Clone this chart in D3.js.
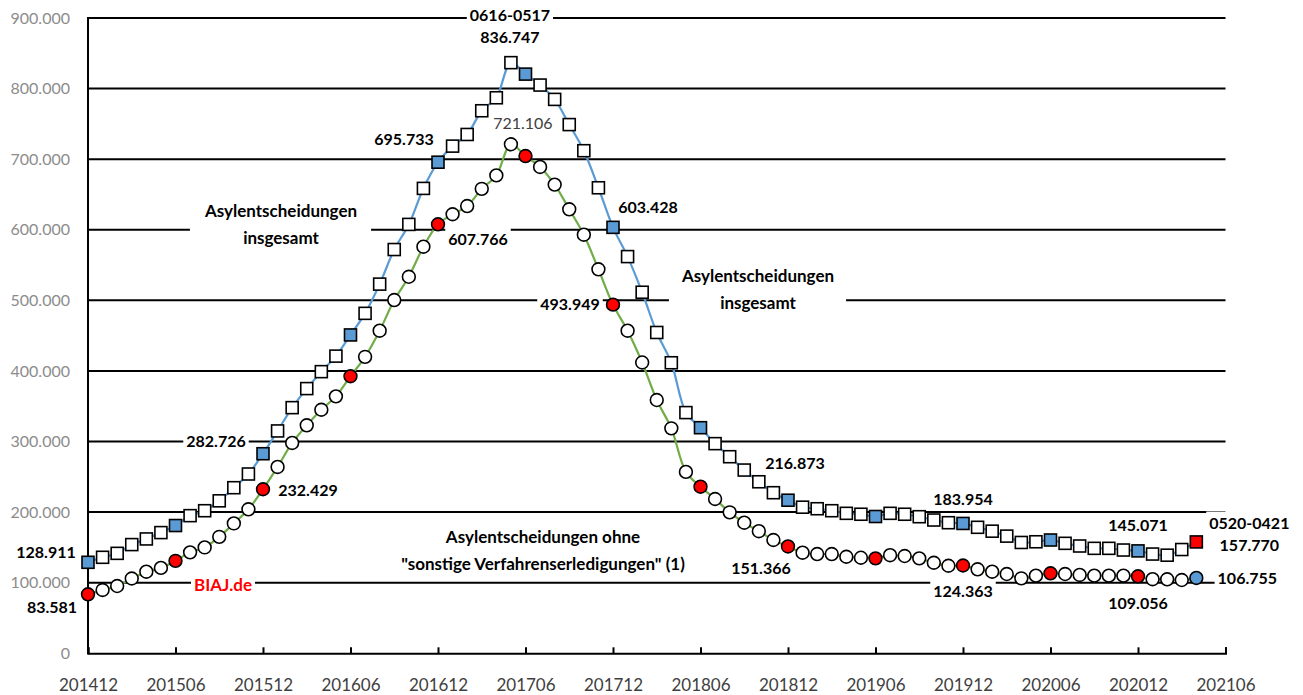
<!DOCTYPE html>
<html>
<head>
<meta charset="utf-8">
<script src="https://cdn.jsdelivr.net/npm/d3@7"></script>
<style>
  body { margin: 0; background: #fff; }
  svg { display: block; }
</style>
</head>
<body>
<div id="chart"></div>
<script>
// monthly values, 12-month rolling sums, 201412 .. 202104
var firstMonth = "201412";
var tickLabels = ["201412", "201506", "201512", "201606", "201612", "201706", "201712",
    "201806", "201812", "201906", "201912", "202006", "202012", "202106"];
var yTicks = [0, 100000, 200000, 300000, 400000, 500000, 600000, 700000, 800000, 900000];

// Asylentscheidungen insgesamt
var insgesamt = [128911, 136000, 141600, 154000, 162000, 171000, 181000, 195000, 202000, 216000,
    234600, 254000, 282726, 315000, 348000, 375000, 399000, 421000, 451000, 481600,
    523000, 572000, 607600, 658600, 695733, 718500, 735000, 768600, 787000, 836747,
    820500, 805000, 784700, 749000, 712000, 659500, 603428, 562000, 511500, 454500,
    411600, 341000, 319600, 297000, 278500, 259600, 243000, 227500, 216873, 207000,
    204800, 202000, 198300, 197000, 193800, 198300, 197000, 193500, 188800, 185000,
    183954, 178500, 173000, 166000, 157000, 158000, 160500, 155800, 152000, 148700,
    148700, 146300, 145071, 140600, 139000, 147000, 157770];

// ohne "sonstige Verfahrenserledigungen"
var ohneSonstige = [83581, 89700, 95300, 106000, 115600, 121000, 131000, 143000, 150000, 165000,
    184000, 204000, 232429, 264000, 298000, 323000, 345000, 364000, 392500, 420000,
    457000, 500400, 533400, 576000, 607766, 622000, 633600, 658000, 677000, 721106,
    704400, 689000, 664000, 629000, 593000, 544000, 493949, 457000, 412000, 358800,
    318700, 257000, 236000, 218600, 199700, 185000, 173000, 160500, 151366, 142500,
    140600, 140600, 136800, 135400, 134500, 139000, 137800, 134500, 128300, 124000,
    124363, 119000, 115600, 112300, 106200, 110000, 113300, 112300, 111000, 110000,
    110000, 110000, 109056, 105000, 104800, 103800, 106755];

var width = 1303, height = 695;
var plotLeft = 88, plotRight = 1225.5, plotTop = 18, plotBottom = 653.3;
var font = "Lato, 'Open Sans', sans-serif";
var blue = "#5b9bd5", green = "#70ad47", red = "#ff0000";

function monthIndex(s) { return +s.slice(0, 4) * 12 + (+s.slice(4, 6) - 1); }
var start = monthIndex(firstMonth);

var x = d3.scaleLinear()
    .domain([monthIndex(tickLabels[0]), monthIndex(tickLabels[tickLabels.length - 1])])
    .range([plotLeft, plotRight]);
var y = d3.scaleLinear().domain([0, 900000]).range([plotBottom, plotTop]);
var fmt = d3.formatLocale({ decimal: ",", thousands: ".", grouping: [3], currency: ["", "€"] }).format(",d");

var svg = d3.select("#chart").append("svg")
    .attr("width", width)
    .attr("height", height)
    .style("font-family", font);

// gridlines
svg.append("g")
    .selectAll("line")
    .data(yTicks.filter(d => d > 0))
    .enter().append("line")
    .attr("x1", plotLeft).attr("x2", plotRight)
    .attr("y1", d => y(d)).attr("y2", d => y(d))
    .attr("stroke", "#000").attr("stroke-width", 2);

// y axis labels
svg.append("g")
    .selectAll("text")
    .data(yTicks)
    .enter().append("text")
    .attr("x", 70).attr("y", d => y(d))
    .attr("dy", "0.35em")
    .attr("text-anchor", "end")
    .attr("fill", "#8c8c8c")
    .style("font-size", "16px")
    .text(d => d === 0 ? "0" : fmt(d));

// x axis
var xAxis = d3.axisBottom(x)
    .tickValues(tickLabels.map(monthIndex))
    .tickSize(-6)
    .tickPadding(26)
    .tickFormat((d, i) => tickLabels[i]);

var gx = svg.append("g")
    .attr("transform", "translate(0," + plotBottom + ")")
    .call(xAxis);
gx.select(".domain").attr("stroke", "#000").attr("stroke-width", 2);
gx.selectAll(".tick line").attr("stroke", "#000").attr("stroke-width", 2);
gx.selectAll(".tick text")
    .attr("fill", "#404040")
    .style("font-size", "17px")
    .style("font-family", font);

// y axis line
svg.append("line")
    .attr("x1", plotLeft).attr("x2", plotLeft)
    .attr("y1", plotTop - 1).attr("y2", plotBottom + 1)
    .attr("stroke", "#000").attr("stroke-width", 2);

// label layers: boxes under the series, texts above
var boxLayer = svg.append("g");
var seriesLayer = svg.append("g");
var textLayer = svg.append("g");

function pt(series, i) {
    return [x(start + i), y(series[i])];
}

// annotations: lines of text, anchor point, pixel offsets, style
var annotations = [
    { lines: ["128.911"], at: [insgesamt, 0], dx: -42, dy: -10 },
    { lines: ["83.581"], at: [ohneSonstige, 0], dx: -36, dy: 13 },
    { lines: ["282.726"], at: [insgesamt, 12], dx: -47, dy: -12 },
    { lines: ["232.429"], at: [ohneSonstige, 12], dx: 45, dy: 1 },
    { lines: ["695.733"], at: [insgesamt, 24], dx: -34, dy: -23 },
    { lines: ["607.766"], at: [ohneSonstige, 24], dx: 40, dy: 15 },
    { lines: ["0616-0517", "836.747"], at: [insgesamt, 29], dx: -1, dy: -47.5 },
    { lines: ["721.106"], at: [ohneSonstige, 29], dx: 12, dy: -21, light: true },
    { lines: ["603.428"], at: [insgesamt, 36], dx: 35, dy: -20 },
    { lines: ["493.949"], at: [ohneSonstige, 36], dx: -43, dy: 0 },
    { lines: ["216.873"], at: [insgesamt, 48], dx: 7, dy: -37 },
    { lines: ["151.366"], at: [ohneSonstige, 48], dx: -27, dy: 22 },
    { lines: ["183.954"], at: [insgesamt, 60], dx: 0, dy: -24 },
    { lines: ["124.363"], at: [ohneSonstige, 60], dx: 0, dy: 26 },
    { lines: ["145.071"], at: [insgesamt, 72], dx: 0, dy: -25 },
    { lines: ["109.056"], at: [ohneSonstige, 72], dx: 0, dy: 27 },
    { lines: ["0520-0421", "157.770"], at: [insgesamt, 76], dx: 53, dy: -19 },
    { lines: ["106.755"], at: [ohneSonstige, 76], dx: 51, dy: 0 },
    { lines: ["Asylentscheidungen", "insgesamt"], pos: [281, 211], pad: 14 },
    { lines: ["Asylentscheidungen", "insgesamt"], pos: [758, 276], pad: 12 },
    { lines: ["Asylentscheidungen ohne", "\"sonstige Verfahrenserledigungen\" (1)"], pos: [543, 537], pad: 6 },
    { lines: ["BIAJ.de"], pos: [223, 585], color: red }
];

annotations.forEach(function (a) {
    var cx, cy;
    if (a.at) {
        var p = pt(a.at[0], a.at[1]);
        cx = p[0] + a.dx; cy = p[1] + a.dy;
    } else {
        cx = a.pos[0]; cy = a.pos[1];
    }
    var big = !a.at;
    var t = textLayer.append("text")
        .attr("text-anchor", "middle")
        .attr("fill", a.color || (a.light ? "#404040" : "#000"))
        .style("font-weight", a.light ? "normal" : "bold")
        .style("font-size", big ? "17px" : "16px");
    a.lines.forEach(function (l, i) {
        t.append("tspan").attr("x", cx).attr("y", cy + i * (big ? 27 : 22)).attr("dy", "0.35em").text(l);
    });
    var b = t.node().getBBox();
    var pad = a.pad || 3;
    boxLayer.append("rect")
        .attr("x", b.x - pad).attr("y", b.y - 1)
        .attr("width", b.width + 2 * pad).attr("height", b.height + 2)
        .attr("fill", "#fff");
});

// series
var line = d3.line()
    .x((d, i) => x(start + i))
    .y(d => y(d))
    .curve(d3.curveCatmullRom.alpha(0.5));

seriesLayer.append("path")
    .attr("d", line(insgesamt))
    .attr("fill", "none").attr("stroke", blue).attr("stroke-width", 2.2);
seriesLayer.append("path")
    .attr("d", line(ohneSonstige))
    .attr("fill", "none").attr("stroke", green).attr("stroke-width", 2.2);

var last = insgesamt.length - 1;
var sq = 12;
seriesLayer.append("g")
    .selectAll("rect")
    .data(insgesamt)
    .enter().append("rect")
    .attr("x", (d, i) => x(start + i) - sq / 2)
    .attr("y", d => y(d) - sq / 2)
    .attr("width", sq).attr("height", sq)
    .attr("fill", (d, i) => i === last ? red : (i % 6 === 0 ? blue : "#fff"))
    .attr("stroke", "#000").attr("stroke-width", 1.6);

seriesLayer.append("g")
    .selectAll("circle")
    .data(ohneSonstige)
    .enter().append("circle")
    .attr("cx", (d, i) => x(start + i))
    .attr("cy", d => y(d))
    .attr("r", 6.4)
    .attr("fill", (d, i) => i === last ? blue : (i % 6 === 0 ? red : "#fff"))
    .attr("stroke", "#000").attr("stroke-width", 1.6);
</script>
</body>
</html>
